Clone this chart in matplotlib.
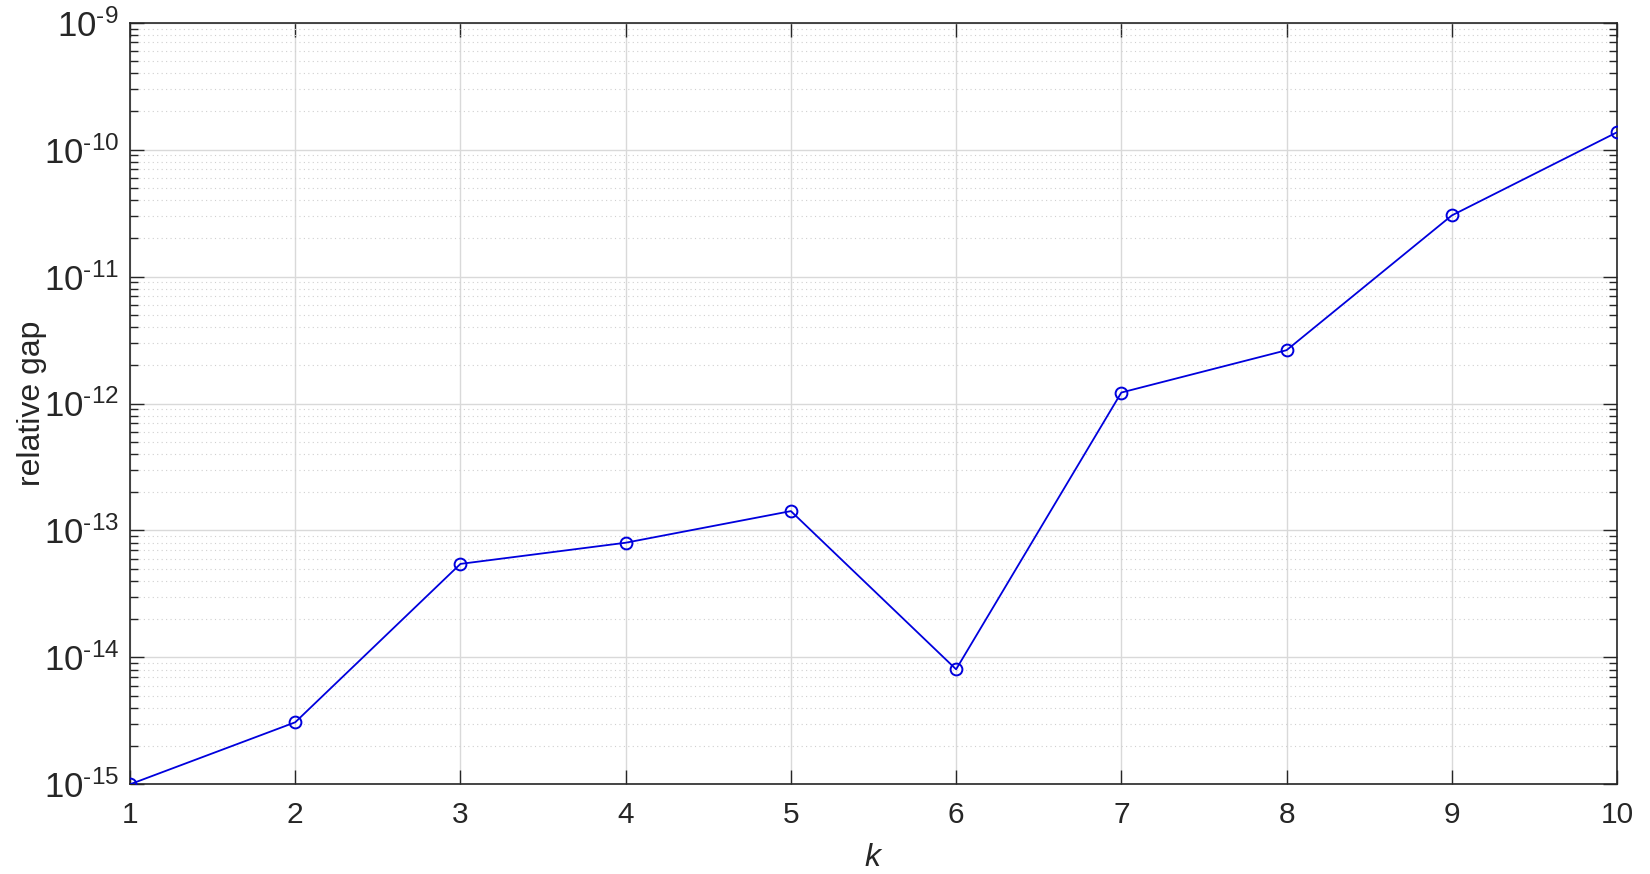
import matplotlib
matplotlib.use("Agg")
import matplotlib.pyplot as plt
from matplotlib.ticker import LogLocator, NullFormatter

plt.rcParams['font.family'] = ['Liberation Sans', 'DejaVu Sans']
plt.rcParams['mathtext.fontset'] = 'custom'
plt.rcParams['mathtext.rm'] = 'Liberation Sans'
plt.rcParams['mathtext.it'] = 'Liberation Sans:italic'

k = [1, 2, 3, 4, 5, 6, 7, 8, 9, 10]
relative_gap = [1.0e-15, 3.08e-15, 5.45e-14, 8.0e-14, 1.42e-13,
                8.05e-15, 1.22e-12, 2.63e-12, 3.03e-11, 1.37e-10]
ytick_exps = [-15, -14, -13, -12, -11, -10, -9]

fig = plt.figure(figsize=(16.5, 8.74), dpi=100)
ax = fig.add_axes([130/1650, 1-784.3/874, (1617-130)/1650, (784.3-22.7)/874])

ax.plot(k, relative_gap, '-o', color='#0000dd', lw=1.3, ms=8.5,
        mfc='none', mec='#0000dd', mew=1.4, zorder=3)

ax.set_yscale('log')
ax.set_xlim(1, 10)
ax.set_ylim(1e-15, 1e-9)
ax.set_xticks(k)
ax.set_xticklabels([str(v) for v in k])
ax.set_yticks([10.0**e for e in ytick_exps])
ax.set_yticklabels([r'$10^{\text{%d}}$' % e for e in ytick_exps], fontsize=25)
ax.yaxis.set_minor_locator(LogLocator(base=10, subs=range(2, 10), numticks=100))
ax.yaxis.set_minor_formatter(NullFormatter())

ax.grid(True, which='major', color='#d9d9d9', lw=1.0, ls='-', zorder=0)
ax.grid(True, which='minor', axis='y', color='#d0d0d0', lw=0.8, ls=(0, (1, 3)), zorder=0)
ax.set_axisbelow(True)

ax.tick_params(which='both', direction='in', top=True, right=True,
               color='#262626', labelcolor='#262626')
ax.tick_params(axis='x', labelsize=21.5, pad=12)
ax.tick_params(axis='y', pad=8)
ax.tick_params(which='major', length=10, width=1.0)
ax.tick_params(which='minor', length=6, width=1.0)
for s in ax.spines.values():
    s.set_color('#262626')
    s.set_linewidth(1.2)

ax.set_xlabel('$k$', fontsize=23, color='#262626', labelpad=10)
ax.set_ylabel('relative gap', fontsize=23, color='#262626')
ax.yaxis.set_label_coords(-0.056, 0.5)

fig.savefig('out.png', dpi=100, facecolor='white')
